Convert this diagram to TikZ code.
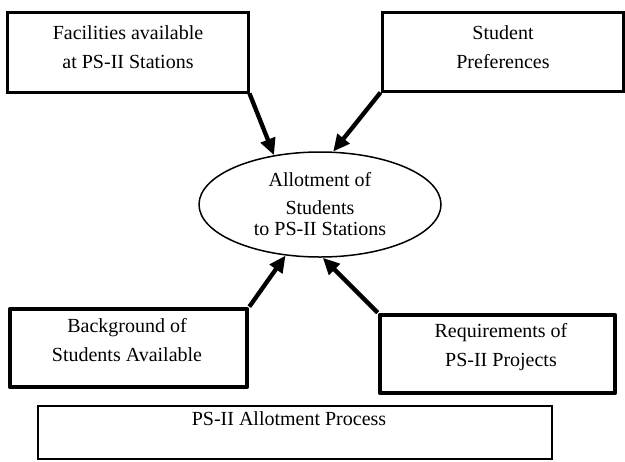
\documentclass[tikz,border=0pt]{standalone}
\usepackage{fontspec}
\setmainfont{Liberation Serif}
\usetikzlibrary{arrows.meta}
\usetikzlibrary{shapes.geometric}

\begin{document}
\begin{tikzpicture}[x=0.6pt,y=-0.6pt,
  box/.style={draw,line width=1.8pt,inner sep=0pt},
  heavybox/.style={draw,line width=2.8pt,line join=round,inner sep=0pt},
  plainbox/.style={draw,line width=1pt,inner sep=0pt},
  txt/.style={align=center,font=\fontsize{12}{17.4}\selectfont},
  arr/.style={line width=2.6pt,-{Triangle[length=10pt,width=9pt]}}]
  \useasboundingbox (0,0) rectangle (625,461);
  \node[box,minimum width=144.6pt,minimum height=48pt] (fac) at (127.5,52) {};
  \node[txt] (factxt) at (128,47.5) {Facilities available\\at PS-II Stations};
  \node[box,minimum width=144.6pt,minimum height=47.4pt] (pref) at (502.5,51.5) {};
  \node[txt] (preftxt) at (503,47.5) {Student\\Preferences};
  \node[draw,ellipse,line width=0.9pt,minimum width=145.2pt,minimum height=63pt,inner sep=0pt,
    align=center,font=\fontsize{12}{12.6}\selectfont] (alloc) at (320,204.5)
    {Allotment of\\[4.2pt]Students\\to PS-II Stations};
  \node[heavybox,minimum width=142.2pt,minimum height=46.8pt] (back) at (128.5,348) {};
  \node[txt] (backtxt) at (127,340.5) {Background of\\Students Available};
  \node[heavybox,minimum width=141pt,minimum height=46.8pt] (req) at (497.5,354) {};
  \node[txt] (reqtxt) at (501,347.5) {Requirements of\\PS-II Projects};
  \node[plainbox,minimum width=308.4pt,minimum height=31.8pt] (proc) at (295,432.5) {};
  \node[txt] (proctxt) at (289,419) {PS-II Allotment Process};
  \draw[arr] (fac.south east) -- (alloc.133);
  \draw[arr] (pref.south west) -- (alloc.76);
  \draw[arr] (back.north east) -- (alloc.236);
  \draw[arr] (req.north west) -- (alloc.273);
\end{tikzpicture}
\end{document}
